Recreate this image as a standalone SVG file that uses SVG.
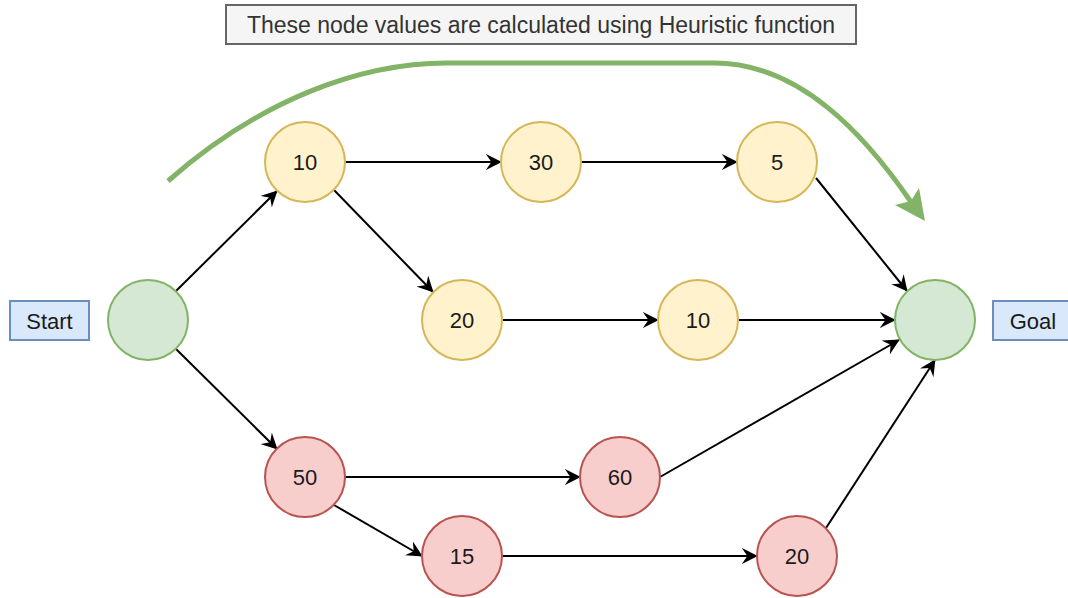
<svg xmlns="http://www.w3.org/2000/svg" width="1068" height="598" viewBox="0 0 1068 598">
<style>
text{font-family:"Liberation Sans",Arial,sans-serif;font-size:22px;fill:#1a1a1a;text-anchor:middle;dominant-baseline:central}
.y{fill:#fff2cc;stroke:#d6b656;stroke-width:2}
.r{fill:#f8cecc;stroke:#b85450;stroke-width:2}
.g{fill:#d5e8d4;stroke:#82b366;stroke-width:2}
.b{fill:#dae8fc;stroke:#6c8ebf;stroke-width:2}
.e{stroke:#000;stroke-width:2;fill:none;marker-end:url(#a)}
</style>
<defs>
<marker id="a" viewBox="0 0 10 10" refX="9.5" refY="5" markerWidth="16" markerHeight="16" markerUnits="userSpaceOnUse" orient="auto">
<path d="M0,0 L10,5 L0,10 L3.5,5 z" fill="#000"/>
</marker>
</defs>
<g id="title"><rect x="226" y="5" width="630" height="39" fill="#f5f5f5" stroke="#666" stroke-width="2"/><text x="541" y="25" style="fill:#333;font-size:23px">These node values are calculated using Heuristic function</text></g>
<g id="connectors">
<path class="e" d="M176,291 L277,191"/>
<path class="e" d="M176,349 L277,449"/>
<path class="e" d="M345,162 L501,162"/>
<path class="e" d="M581,162 L737,162"/>
<path class="e" d="M334,190 L433,292"/>
<path class="e" d="M816,178 L907,291"/>
<path class="e" d="M502,320 L658,320"/>
<path class="e" d="M738,320 L895,320"/>
<path class="e" d="M345,477 L580,477"/>
<path class="e" d="M660,477 L899,340"/>
<path class="e" d="M334,505 L422,556"/>
<path class="e" d="M502,556 L757,556"/>
<path class="e" d="M826,528 L935,360"/>
<g id="heuristic-arrow">
<path d="M168,181 C260,100 360,63 447,63 L714,63 C800,63 865,135 911,202" fill="none" stroke="#82b366" stroke-width="5"/>
<path d="M925,221 L895,205 L911,201 L919,188 z" fill="#82b366"/>
</g>
</g>
<g id="start-label"><rect x="10" y="301" width="79" height="39" class="b"/><text x="49.5" y="321">Start</text></g>
<g id="goal-label"><rect x="993" y="301" width="80" height="39" class="b"/><text x="1033" y="321">Goal</text></g>
<g id="start"><circle cx="148" cy="320" r="40" class="g"/></g>
<g id="goal"><circle cx="935" cy="320" r="40" class="g"/></g>
<g id="n10a"><circle cx="305" cy="162" r="40" class="y"/><text x="305" y="162">10</text></g>
<g id="n30"><circle cx="541" cy="162" r="40" class="y"/><text x="541" y="162">30</text></g>
<g id="n5"><circle cx="777" cy="162" r="40" class="y"/><text x="777" y="162">5</text></g>
<g id="n20a"><circle cx="462" cy="320" r="40" class="y"/><text x="462" y="320">20</text></g>
<g id="n10b"><circle cx="698" cy="320" r="40" class="y"/><text x="698" y="320">10</text></g>
<g id="n50"><circle cx="305" cy="477" r="40" class="r"/><text x="305" y="477">50</text></g>
<g id="n60"><circle cx="620" cy="477" r="40" class="r"/><text x="620" y="477">60</text></g>
<g id="n15"><circle cx="462" cy="556" r="40" class="r"/><text x="462" y="556">15</text></g>
<g id="n20b"><circle cx="797" cy="556" r="40" class="r"/><text x="797" y="556">20</text></g>
</svg>
